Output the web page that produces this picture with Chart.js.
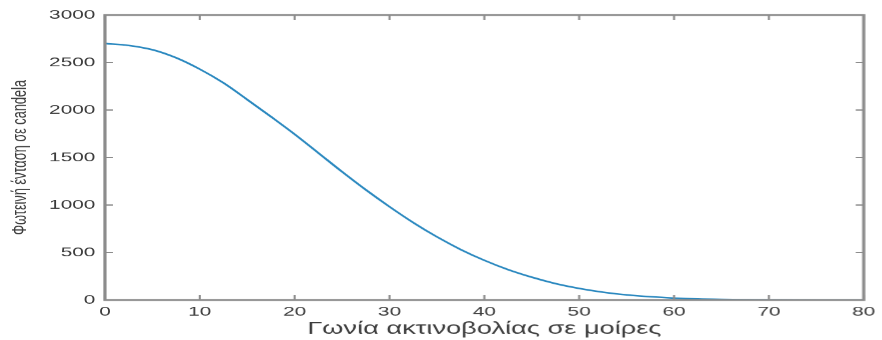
<!DOCTYPE html>
<html>
    <head>
        <title>Φωτεινή ένταση</title>
        <meta charset="UTF-8">
        <script src="https://cdn.jsdelivr.net/npm/chart.js@4.4.1/dist/chart.umd.min.js"></script>
        <style>
            body {
                margin: 0;
                background: #fff;
            }
            /* the source image is stretched sideways, so the chart is drawn narrow and scaled */
            #wrap {
                width: 551.25px;
                height: 340px;
                transform: scaleX(1.6);
                transform-origin: 0 0;
            }
        </style>
    </head>
    <body>
        <div id="wrap">
            <canvas id="myChart"></canvas>
        </div>
        <script>
            // values
            var angles = [0, 2.5, 5, 7.5, 10, 12.5, 15, 17.5, 20, 22.5, 25, 27.5, 30, 32.5, 35, 37.5, 40,
                          42.5, 45, 47.5, 50, 52.5, 55, 57.5, 60, 62.5, 65, 67.5, 70, 75, 80];
            var intensity = [2700, 2680, 2635, 2550, 2430, 2285, 2110, 1930, 1745, 1548, 1350, 1160, 982, 815, 665, 532, 418,
                             320, 240, 173, 122, 83, 54, 34, 20, 11, 6, 3, 1, 0, 0];
            var xTicks = [0, 10, 20, 30, 40, 50, 60, 70, 80];
            var yTicks = [0, 500, 1000, 1500, 2000, 2500, 3000];

            var axisColor = '#8c8c8c';
            var textColor = '#3c3c3c';
            var fontName = '"Liberation Sans", Arial, sans-serif';

            var points = [];
            for (var i = 0; i < angles.length; i++) {
                points.push({x: angles[i], y: intensity[i]});
            }

            // MATLAB style box with inward ticks on all sides
            var boxPlugin = {
                id: 'box',
                afterDraw: function (chart) {
                    var ctx = chart.ctx;
                    var a = chart.chartArea;
                    var sx = chart.scales.x;
                    var sy = chart.scales.y;
                    ctx.save();
                    ctx.strokeStyle = axisColor;
                    ctx.lineWidth = 1.3;
                    ctx.beginPath();
                    xTicks.forEach(function (t) {
                        var px = sx.getPixelForValue(t);
                        ctx.moveTo(px, a.bottom);
                        ctx.lineTo(px, a.bottom - 5);
                        ctx.moveTo(px, a.top);
                        ctx.lineTo(px, a.top + 5);
                    });
                    yTicks.forEach(function (t) {
                        var py = sy.getPixelForValue(t);
                        ctx.moveTo(a.left, py);
                        ctx.lineTo(a.left + 5, py);
                        ctx.moveTo(a.right, py);
                        ctx.lineTo(a.right - 5, py);
                    });
                    ctx.stroke();
                    ctx.lineWidth = 2;
                    ctx.strokeRect(a.left, a.top, a.right - a.left, a.bottom - a.top);
                    ctx.restore();
                }
            };

            var ctx = document.getElementById('myChart');
            var myChart = new Chart(ctx, {
                type: 'line',
                data: {
                    datasets: [{
                        data: points,
                        borderColor: '#2a88bf',
                        borderWidth: 1.6,
                        pointRadius: 0,
                        fill: false,
                        cubicInterpolationMode: 'monotone'
                    }]
                },
                options: {
                    responsive: true,
                    maintainAspectRatio: false,
                    devicePixelRatio: 1.6,
                    animation: false,
                    layout: {
                        padding: {top: 15, right: 8.75, left: 0, bottom: 0}
                    },
                    plugins: {
                        legend: {display: false},
                        tooltip: {enabled: false}
                    },
                    scales: {
                        x: {
                            type: 'linear',
                            min: 0,
                            max: 80,
                            grid: {display: false, drawTicks: false},
                            border: {display: false},
                            afterBuildTicks: function (scale) {
                                scale.ticks = xTicks.map(function (v) { return {value: v}; });
                            },
                            afterFit: function (scale) {
                                scale.height = 40;
                            },
                            ticks: {
                                color: textColor,
                                padding: 4,
                                maxRotation: 0,
                                font: {family: fontName, size: 13},
                                callback: function (v) { return String(v); }
                            },
                            title: {
                                display: true,
                                text: 'Γωνία ακτινοβολίας σε μοίρες',
                                color: textColor,
                                padding: {top: 0, bottom: 1},
                                font: {family: fontName, size: 17}
                            }
                        },
                        y: {
                            min: 0,
                            max: 3000,
                            grid: {display: false, drawTicks: false},
                            border: {display: false},
                            afterBuildTicks: function (scale) {
                                scale.ticks = yTicks.map(function (v) { return {value: v}; });
                            },
                            afterFit: function (scale) {
                                scale.width = 65.6;
                            },
                            ticks: {
                                color: textColor,
                                padding: 6,
                                font: {family: fontName, size: 13},
                                callback: function (v) { return String(v); }
                            },
                            title: {
                                display: true,
                                text: 'Φωτεινή ένταση σε candela',
                                color: textColor,
                                padding: {top: 5, bottom: 0},
                                font: {family: fontName, size: 12.75}
                            }
                        }
                    }
                },
                plugins: [boxPlugin]
            });
        </script>
    </body>
</html>
